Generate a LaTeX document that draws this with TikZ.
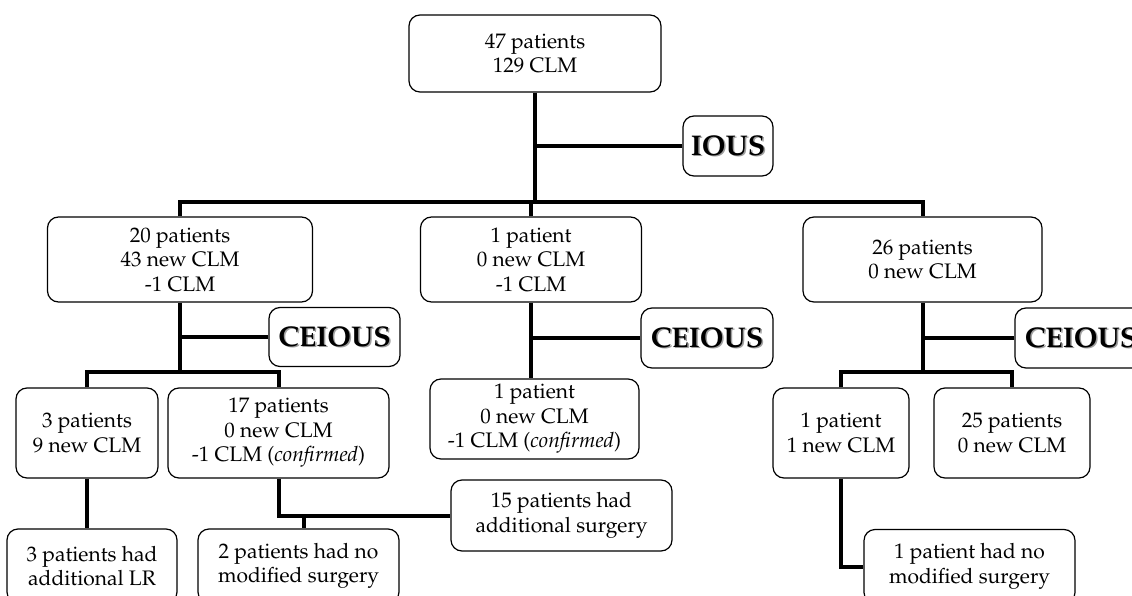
\documentclass[tikz,border=0pt]{standalone}
\usepackage[T1]{fontenc}
\usepackage{mathpazo}
\definecolor{shade}{gray}{0.62}
\newcommand{\shadowed}[1]{\makebox[0pt][l]{\hspace{1.6pt}\raisebox{-1.6pt}{\textcolor{shade}{#1}}}#1}

\begin{document}
\begin{tikzpicture}[x=1pt,y=-1pt,
    box/.style={draw, line width=1.2pt, rounded corners=11pt, align=center, inner sep=0pt,
      font=\fontsize{21}{24.5}\selectfont},
    tagbox/.style={box, font=\fontsize{28.5}{30}\selectfont\bfseries},
    link/.style={line width=4pt}]
    \path[use as bounding box, clip] (0,0) rectangle (1132,596);

    \node[box, minimum width=252, minimum height=77] (top) at (535,53.5) {47 patients\\129 CLM};
    \node[tagbox, minimum width=90, minimum height=60] (ious) at (728,146) {\shadowed{IOUS}};

    \node[box, minimum width=265, minimum height=85] (b20) at (180,259.5) {20 patients\\43 new CLM\\-1 CLM};
    \node[box, minimum width=221, minimum height=85] (b1) at (531,259.5) {1 patient\\0 new CLM\\-1 CLM};
    \node[box, minimum width=239, minimum height=85] (b26) at (922.5,259.5) {26 patients\\0 new CLM};

    \node[tagbox, minimum width=131, minimum height=59] (ceA) at (334.5,337) {\shadowed{CEIOUS}};
    \node[tagbox, minimum width=132, minimum height=60] (ceB) at (707,338) {\shadowed{CEIOUS}};
    \node[tagbox, minimum width=132, minimum height=60] (ceC) at (1081,338) {\shadowed{CEIOUS}};

    \node[box, minimum width=142, minimum height=90] (b3) at (87,433) {3 patients\\9 new CLM};
    \node[box, minimum width=221, minimum height=90] (b17) at (278.5,433) {17 patients\\0 new CLM\\-1 CLM (\textit{confirmed})};
    \node[box, minimum width=209, minimum height=80] (b1c) at (534.5,419) {1 patient\\0 new CLM\\-1 CLM (\textit{confirmed})};
    \node[box, minimum width=136, minimum height=90] (b1n) at (841,433) {1 patient\\1 new CLM};
    \node[box, minimum width=156, minimum height=90] (b25) at (1012,433) {25 patients\\0 new CLM};

    \node[box, minimum width=221, minimum height=71] (b15) at (561.5,515.5) {15 patients had\\additional surgery};
    \node[box, minimum width=170, minimum height=74] (bLR) at (92,566) {3 patients had\\additional LR};
    \node[box, minimum width=201, minimum height=74] (bNo2) at (298.5,566) {2 patients had no\\modified surgery};
    \node[box, minimum width=211, minimum height=74] (bNo1) at (969.5,566.5) {1 patient had no\\modified surgery};

    \coordinate (j0) at (535,202);
    \coordinate (j1) at (180,372);
    \coordinate (j2) at (304,515.5);

    \draw[link] (top.south) -- (top.south |- j0);
    \draw[link] (ious.west) -- (ious.west -| top.south);
    \draw[link] (b20.north) |- (b26.north |- j0) -- (b26.north);
    \draw[link] (b1.north) -- (b1.north |- j0);

    \draw[link] (b20.south) -- (b20.south |- j1);
    \draw[link] (ceA.west) -- (ceA.west -| b20.south);
    \draw[link] (b3.north) |- (b17.north |- j1) -- (b17.north);
    \draw[link] (b1.south) -- (b1.south |- b1c.north);
    \draw[link] (ceB.west) -- (ceB.west -| b1.south);
    \draw[link] (b26.south) -- (b26.south |- j1);
    \draw[link] (ceC.west) -- (ceC.west -| b26.south);
    \draw[link] (b1n.north) |- (b25.north |- j1) -- (b25.north);

    \draw[link] (b3.south) -- (b3.south |- bLR.north);
    \draw[link] (b17.south) |- (b15.west);
    \draw[link] (j2) -- (j2 |- bNo2.north);
    \draw[link] (b1n.south) |- (bNo1.west);
\end{tikzpicture}
\end{document}
